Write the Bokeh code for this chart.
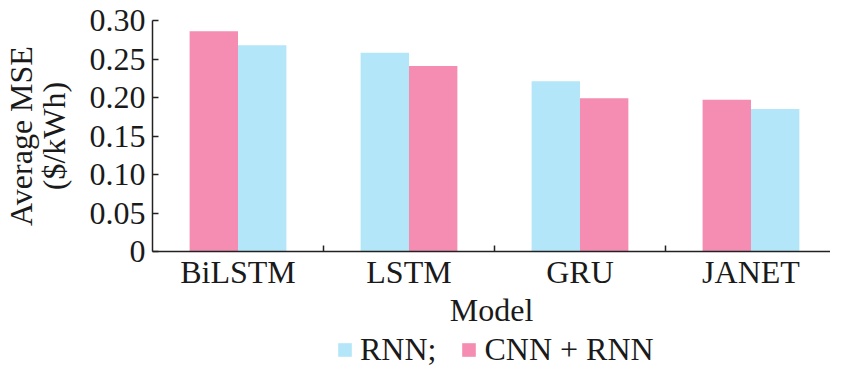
from bokeh.plotting import figure
from bokeh.layouts import column
from bokeh.models import (Range1d, FixedTicker, CustomJSTickFormatter, Legend,
                          LegendItem, ColumnDataSource)
from bokeh.embed import file_html
from bokeh.resources import INLINE

# ---- data ----
models = ["BiLSTM", "LSTM", "GRU", "JANET"]
rnn = [0.268, 0.258, 0.221, 0.185]
cnn_rnn = [0.286, 0.241, 0.199, 0.197]
y_ticks = [0, 0.05, 0.10, 0.15, 0.20, 0.25, 0.30]
series_names = ["RNN;", "CNN + RNN"]

FONT = "Liberation Serif"
TXT = "#1a1a1a"
BLUE = "#b3e6f8"
PINK = "#f48db1"
BAR_W = 0.283

pos = [i + 1 for i in range(len(models))]
# in each pair the taller bar sits on the left
x_rnn = [p + (BAR_W / 2 if r < c else -BAR_W / 2) for p, r, c in zip(pos, rnn, cnn_rnn)]
x_cnn = [p + (BAR_W / 2 if c < r else -BAR_W / 2) for p, r, c in zip(pos, rnn, cnn_rnn)]

src_rnn = ColumnDataSource(dict(x=x_rnn, top=rnn))
src_cnn = ColumnDataSource(dict(x=x_cnn, top=cnn_rnn))

p = figure(width=830, height=330, x_range=Range1d(0.5, 4.465), y_range=Range1d(0, 0.30),
           output_backend="svg", toolbar_location=None,
           min_border_left=144, min_border_right=0, min_border_top=20, min_border_bottom=70)
p.outline_line_color = None
p.xgrid.visible = False
p.ygrid.visible = False

p.vbar(x="x", top="top", width=BAR_W, source=src_rnn, fill_color=BLUE, line_color=None)
p.vbar(x="x", top="top", width=BAR_W, source=src_cnn, fill_color=PINK, line_color=None)

for ax in (p.xaxis[0], p.yaxis[0]):
    ax.axis_line_color = "#222222"
    ax.axis_line_width = 1.5
    ax.major_tick_line_color = "#222222"
    ax.major_tick_line_width = 1.5
    ax.minor_tick_line_color = "#222222"
    ax.minor_tick_line_width = 1.5
    ax.major_label_text_font = FONT
    ax.major_label_text_font_size = "32px"
    ax.major_label_text_color = TXT
    ax.axis_label_text_font = FONT
    ax.axis_label_text_font_size = "32px"
    ax.axis_label_text_font_style = "normal"
    ax.axis_label_text_color = TXT

xa = p.xaxis[0]
xa.ticker = FixedTicker(ticks=pos, minor_ticks=[q + 0.5 for q in pos])
xa.major_label_overrides = {q: m for q, m in zip(pos, models)}
xa.major_tick_line_color = None
xa.major_tick_in = 0
xa.major_tick_out = 0
xa.minor_tick_in = 6
xa.minor_tick_out = 0
xa.major_label_standoff = 2
xa.axis_label = "Model"
xa.axis_label_standoff = -1

ya = p.yaxis[0]
ya.ticker = FixedTicker(ticks=y_ticks)
ya.formatter = CustomJSTickFormatter(code="return tick == 0 ? '0' : tick.toFixed(2);")
ya.major_tick_in = 6
ya.major_tick_out = 0
ya.minor_tick_line_color = None
ya.major_label_standoff = 7
ya.axis_label = "Average MSE\n($/kWh)"
ya.axis_label_standoff = 15
ya.axis_label_text_line_height = 0.9

# ---- legend strip below the chart ----
lg = figure(width=830, height=40, output_backend="svg", toolbar_location=None,
            x_axis_type=None, y_axis_type=None, min_border=0,
            x_range=Range1d(0, 5), y_range=Range1d(1, 2))
lg.outline_line_color = None
lg.xgrid.visible = False
lg.ygrid.visible = False
# same series drawn out of view; they only feed the legend swatches
d1 = lg.vbar(x="x", top="top", width=BAR_W, source=src_rnn, fill_color=BLUE, line_color=None)
d2 = lg.vbar(x="x", top="top", width=BAR_W, source=src_cnn, fill_color=PINK, line_color=None)
legend = Legend(items=[LegendItem(label=series_names[0], renderers=[d1]),
                       LegendItem(label=series_names[1], renderers=[d2])],
                orientation="horizontal", location=(184, 2))
legend.label_text_font = FONT
legend.label_text_font_size = "32px"
legend.label_text_color = TXT
legend.glyph_width = 17
legend.glyph_height = 17
legend.label_standoff = 7
legend.spacing = 24
legend.padding = 0
legend.margin = 0
legend.border_line_color = None
legend.background_fill_alpha = 0
lg.add_layout(legend, "center")

open("out.html", "w").write(file_html(column(p, lg), INLINE))
